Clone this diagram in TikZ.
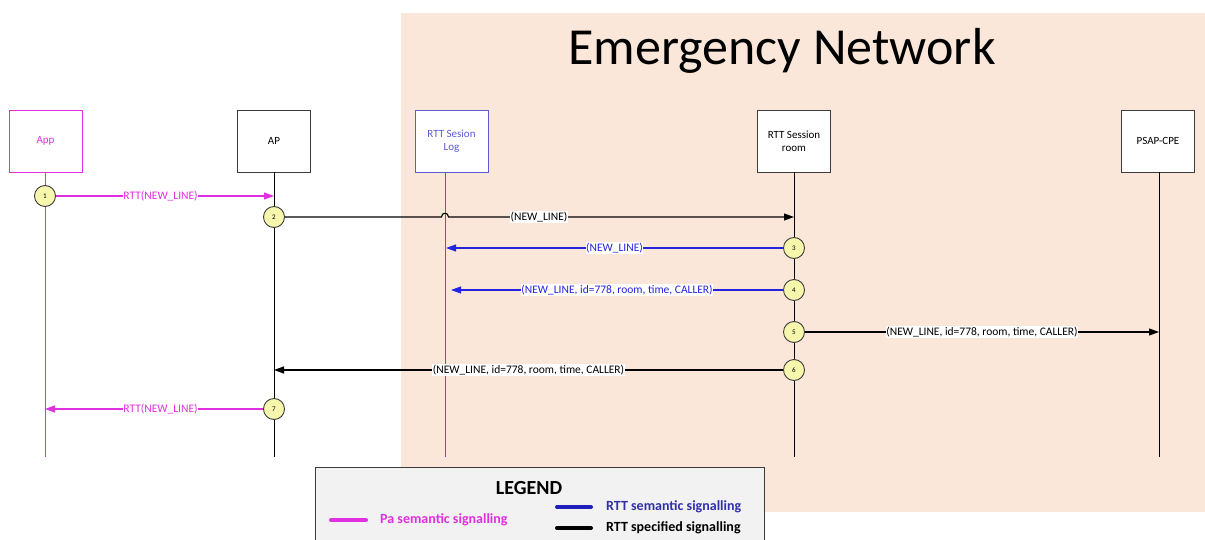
\documentclass[tikz,border=0pt]{standalone}
\usepackage{fontspec}
\setmainfont{Carlito}
\usetikzlibrary{arrows.meta}
\definecolor{pamag}{RGB}{224,48,224}
\definecolor{rttblue}{RGB}{36,36,224}
\definecolor{logblue}{RGB}{90,90,210}
\definecolor{legblue}{RGB}{48,48,170}
\definecolor{peach}{RGB}{251,231,218}
\definecolor{circfill}{RGB}{246,246,172}
\definecolor{lline}{RGB}{60,60,60}
\definecolor{legfill}{RGB}{242,242,242}

\begin{document}
\begin{tikzpicture}[x=1pt,y=-1pt,
  ent/.style={draw=lline,fill=white,line width=0.9pt,minimum width=73pt,minimum height=62pt,align=center,inner sep=1pt,font=\fontsize{11}{13}\selectfont},
  stepnum/.style={circle,draw=lline,fill=circfill,line width=0.9pt,minimum size=21pt,inner sep=0pt,font=\fontsize{7}{8}\selectfont},
  sig/.style={line width=1.1pt,-{Triangle[length=10pt,width=7pt]}},
  msg/.style={fill=white,inner sep=0.5pt,font=\fontsize{11.5}{13}\selectfont},
  legtext/.style={anchor=west,inner sep=1pt,font=\fontsize{14}{16}\selectfont\bfseries},
  legline/.style={line width=4pt,line cap=round}]
\useasboundingbox (0,0) rectangle (1205,540);
\fill[peach] (401,13) rectangle (1205,512);
\node[anchor=base,font=\fontsize{52}{60}\selectfont] (title) at (782,65) {Emergency Network};

\node[ent,draw=pamag,text=pamag] (app) at (45.5,141) {App};
\node[ent] (ap) at (274,141) {AP};
\node[ent,draw=logblue,text=logblue] (log) at (451.5,141) {RTT Sesion\\Log};
\node[ent] (room) at (794,141) {RTT Session\\room};
\node[ent] (psap) at (1158,141) {PSAP-CPE};

\coordinate (appbot) at (45,457);
\coordinate (apbot) at (274,457);
\coordinate (logbot) at (445,457);
\coordinate (roombot) at (794,457);
\coordinate (psapbot) at (1159,457);
\draw[pamag,line width=0.9pt] (app.south -| appbot) -- (appbot);
\draw[black,line width=0.9pt] (ap) -- (apbot);
\draw[logblue,line width=0.9pt] (log.south -| logbot) -- (logbot);
\draw[black,line width=0.9pt] (room) -- (roombot);
\draw[black,line width=0.9pt] (psap.south -| psapbot) -- (psapbot);

\node[stepnum] (s1) at (45,196) {1};
\node[stepnum] (s2) at (274,217) {2};
\node[stepnum] (s3) at (794,248) {3};
\node[stepnum] (s4) at (794,290) {4};
\node[stepnum] (s5) at (794,332) {5};
\node[stepnum] (s6) at (794,370) {6};
\node[stepnum] (s7) at (274,409) {7};

\coordinate (e1) at (274,196);
\coordinate (h2) at (445,217);
\coordinate (e2) at (794,217);
\coordinate (e3) at (446,248);
\coordinate (e4) at (451,290);
\coordinate (e5) at (1159,332);
\coordinate (e6) at (274,370);
\coordinate (e7) at (45,409);

\draw[sig,pamag] (s1) -- (e1) node[msg,pos=0.48,text=pamag] (t1) {RTT(NEW\_LINE)};
\draw[sig] (s2) -- ([xshift=-3.5pt]h2) .. controls +(0,-5) and +(0,-5) .. ([xshift=3.5pt]h2) -- (e2) node[msg,pos=0.262] (t2) {(NEW\_LINE)};
\draw[sig,rttblue] (s3) -- (e3) node[msg,pos=0.5,text=rttblue] (t3) {(NEW\_LINE)};
\draw[sig,rttblue] (s4) -- (e4) node[msg,pos=0.5,text=rttblue] (t4) {(NEW\_LINE, id=778, room, time, CALLER)};
\draw[sig] (s5) -- (e5) node[msg,pos=0.5] (t5) {(NEW\_LINE, id=778, room, time, CALLER)};
\draw[sig] (s6) -- (e6) node[msg,pos=0.5] (t6) {(NEW\_LINE, id=778, room, time, CALLER)};
\draw[sig,pamag] (s7) -- (e7) node[msg,pos=0.47,text=pamag] (t7) {RTT(NEW\_LINE)};

\draw[lline,fill=legfill,line width=0.9pt] (315,545) rectangle (764,467);
\node[font=\fontsize{20}{24}\selectfont\bfseries] (legend) at (529,488) {LEGEND};
\node[legtext,text=pamag] (lpa) at (379,520) {Pa semantic signalling};
\node[legtext,text=legblue] (lsem) at (605,507) {RTT semantic signalling};
\node[legtext] (lspec) at (605,528) {RTT specified signalling};
\draw[legline,pamag] ([xshift=-13pt]lpa.west) -- ++(-35,0);
\draw[legline,rttblue!85!black] ([xshift=-14pt]lsem.west) -- ++(-34,0);
\draw[legline,black] ([xshift=-14pt]lspec.west) -- ++(-34,0);
\end{tikzpicture}
\end{document}
